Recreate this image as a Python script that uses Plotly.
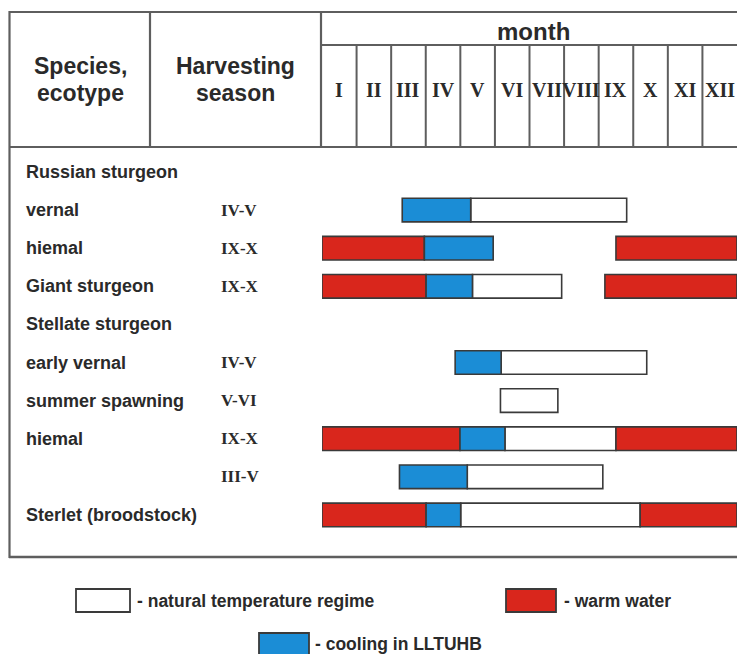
import plotly.graph_objects as go

# ---------------- data ----------------
months = ["I", "II", "III", "IV", "V", "VI", "VII", "VIII", "IX", "X", "XI", "XII"]

row_species = ["Russian sturgeon", "vernal", "hiemal", "Giant sturgeon", "Stellate sturgeon",
               "early vernal", "summer spawning", "hiemal", "", "Sterlet (broodstock)"]
row_season = ["", "IV-V", "IX-X", "IX-X", "", "IV-V", "V-VI", "IX-X", "III-V", ""]

# bar segments (month units, 0 = start of January, 12 = end of December)
seg_row = [1, 1,
           2, 2, 2,
           3, 3, 3, 3,
           5, 5,
           6,
           7, 7, 7, 7,
           8, 8,
           9, 9, 9, 9]
seg_start = [2.32, 4.30,
             0.00, 2.96, 8.50,
             0.00, 3.01, 4.35, 8.18,
             3.85, 5.18,
             5.16,
             0.00, 3.99, 5.29, 8.50,
             2.24, 4.20,
             0.00, 3.01, 4.01, 9.20]
seg_end = [4.30, 8.81,
           2.96, 4.95, 12.0,
           3.01, 4.35, 6.93, 12.0,
           5.18, 9.39,
           6.82,
           3.99, 5.29, 8.50, 12.0,
           4.20, 8.12,
           3.01, 4.01, 9.20, 12.0]
seg_kind = ["cool", "natural",
            "warm", "cool", "warm",
            "warm", "cool", "natural", "warm",
            "cool", "natural",
            "natural",
            "warm", "cool", "natural", "warm",
            "cool", "natural",
            "warm", "cool", "natural", "warm"]

kind_labels = {"natural": "- natural temperature regime",
               "warm": "- warm water",
               "cool": "- cooling in LLTUHB"}

# ---------------- styling ----------------
W, H = 737, 654
COLORS = {"natural": "#ffffff", "warm": "#d9261c", "cool": "#1b8dd6"}
EDGE = "#3a3a3a"
LINE = "#5e5e5e"
TXT = "#2a2a2a"
SANS = "Liberation Sans, Arial, sans-serif"
SERIF = "Liberation Serif, Times New Roman, serif"


def px(x):
    return x / W


def py(y):
    return 1 - y / H


fig = go.Figure()

for kind in ["natural", "warm", "cool"]:
    idx = [i for i, k in enumerate(seg_kind) if k == kind]
    fig.add_trace(go.Bar(
        orientation="h",
        y=[seg_row[i] for i in idx],
        base=[seg_start[i] for i in idx],
        x=[seg_end[i] - seg_start[i] for i in idx],
        width=0.62,
        marker=dict(color=COLORS[kind], line=dict(color=EDGE, width=1.6)),
        showlegend=False,
        hoverinfo="skip",
    ))

shapes = []


def pline(x0, y0, x1, y1, w=2.2):
    shapes.append(dict(type="line", xref="paper", yref="paper",
                       x0=px(x0), y0=py(y0), x1=px(x1), y1=py(y1),
                       line=dict(color=LINE, width=w)))


# table frame
pline(9, 12, 740, 12)
pline(9.5, 11, 9.5, 558)
pline(9, 557, 740, 557, 2.6)
pline(9, 147, 740, 147)
pline(150, 12, 150, 147)
pline(321, 12, 321, 147)
pline(321, 45, 740, 45)
# month column separators (on the month axis)
for k in range(1, len(months)):
    shapes.append(dict(type="line", xref="x", yref="paper",
                       x0=k, x1=k, y0=py(45), y1=py(147),
                       line=dict(color=LINE, width=2)))

annotations = []


def ann(text, x, y, size, family=SANS, xanchor="center", xref="paper", yref="paper"):
    annotations.append(dict(text=text, x=x, y=y, xref=xref, yref=yref,
                            xanchor=xanchor, yanchor="middle", showarrow=False,
                            font=dict(size=size, family=family, color=TXT)))


ann("<b>Species,</b>", px(80), py(66), 23)
ann("<b>ecotype</b>", px(80), py(93), 23)
ann("<b>Harvesting</b>", px(235), py(66), 23)
ann("<b>season</b>", px(235), py(93), 23)
ann("<b>month</b>", px(533), py(31), 24)

for k, m in enumerate(months):
    ann("<b>%s</b>" % m, k + 0.5, py(90), 20, family=SERIF, xref="x")

for i, (sp, se) in enumerate(zip(row_species, row_season)):
    if sp:
        ann("<b>%s</b>" % sp, px(24), i, 18, xanchor="left", yref="y")
    if se:
        ann("<b>%s</b>" % se, px(219), i, 17, family=SERIF, xanchor="left", yref="y")

# legend (manual)
legend_items = [("natural", 76, 589, 130, 612, 135, 601),
                ("warm", 506, 589, 556, 612, 562, 601),
                ("cool", 259, 633, 309, 656, 313, 644)]
for kind, x0, y0, x1, y1, tx, ty in legend_items:
    shapes.append(dict(type="rect", xref="paper", yref="paper",
                       x0=px(x0), y0=py(y0), x1=px(x1), y1=py(y1),
                       fillcolor=COLORS[kind], line=dict(color=EDGE, width=1.8)))
    ann("<b>%s</b>" % kind_labels[kind], px(tx), py(ty), 17.5, xanchor="left")

fig.update_layout(
    width=W, height=H,
    margin=dict(l=0, r=0, t=0, b=0),
    paper_bgcolor="white", plot_bgcolor="white",
    barmode="overlay",
    shapes=shapes,
    annotations=annotations,
    xaxis=dict(domain=[px(322), 1], range=[0, 12], visible=False, fixedrange=True),
    yaxis=dict(domain=[py(557), py(147)], range=[10.105, -0.656], visible=False, fixedrange=True),
)

fig.write_html("out.html", config={"displayModeBar": False},
               post_script="document.body.style.margin='0';document.body.style.padding='0';document.body.style.overflow='hidden';")
